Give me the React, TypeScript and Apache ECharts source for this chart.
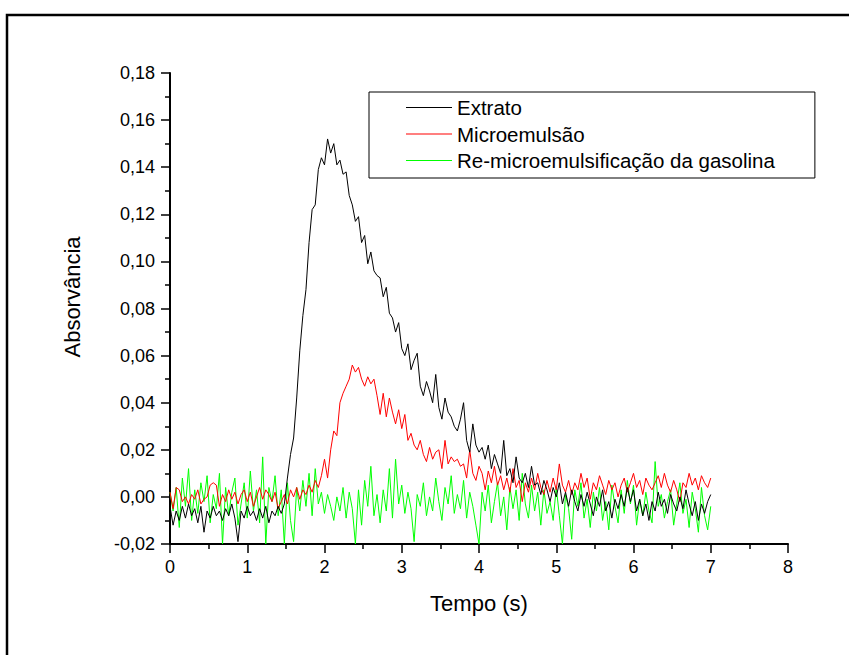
import React, { useEffect, useRef } from "react";
import * as echarts from "echarts";

// Sampling interval of the recordings (s)
const TIME_STEP = 0.04;

const SERIES_NAMES = ["Extrato", "Microemulsão", "Re-microemulsificação da gasolina"];
const SERIES_COLORS = ["#000000", "#ff0000", "#00ff00"];

const X_TICKS = [0, 1, 2, 3, 4, 5, 6, 7, 8];
const Y_TICKS = [-0.02, 0, 0.02, 0.04, 0.06, 0.08, 0.1, 0.12, 0.14, 0.16, 0.18];

// Extrato (black)
const extrato = [
  -0.004, -0.012, -0.006, -0.010, -0.004, -0.009, -0.003, -0.008, -0.005, -0.011,
  -0.004, -0.015, -0.006, -0.009, -0.004, -0.008, -0.006, -0.010, -0.005, -0.008,
  -0.003, -0.009, -0.019, -0.006, -0.009, -0.004, -0.008, -0.006, -0.010, -0.005,
  -0.009, -0.004, -0.011, -0.006, -0.008, -0.004, -0.007, -0.003, 0.008, 0.018,
  0.025, 0.042, 0.062, 0.077, 0.088, 0.108, 0.122, 0.124, 0.139, 0.144,
  0.141, 0.152, 0.146, 0.150, 0.141, 0.143, 0.137, 0.138, 0.128, 0.124,
  0.117, 0.119, 0.108, 0.111, 0.099, 0.104, 0.096, 0.094, 0.093, 0.085,
  0.089, 0.078, 0.076, 0.070, 0.074, 0.063, 0.060, 0.065, 0.054, 0.058,
  0.061, 0.047, 0.043, 0.049, 0.045, 0.040, 0.052, 0.038, 0.033, 0.042,
  0.036, 0.034, 0.030, 0.028, 0.033, 0.040, 0.024, 0.019, 0.031, 0.022,
  0.019, 0.021, 0.016, 0.022, 0.012, 0.018, 0.014, 0.010, 0.024, 0.009,
  0.012, 0.006, 0.017, 0.008, 0.006, 0.010, 0.004, 0.013, 0.005, 0.006,
  0.001, 0.007, 0.003, -0.002, 0.004, 0.000, 0.006, -0.003, 0.002, -0.004,
  0.003, -0.002, -0.006, 0.001, -0.004, 0.002, -0.003, -0.008, 0.000, -0.004,
  0.003, -0.006, -0.002, -0.009, -0.001, -0.005, 0.001, -0.004, 0.004, -0.002,
  0.003, -0.006, -0.001, -0.008, -0.003, -0.010, -0.002, -0.006, 0.002, -0.004,
  -0.001, -0.007, 0.001, -0.003, -0.006, 0.000, -0.005, 0.003, -0.003, -0.008,
  -0.002, -0.010, -0.003, -0.007, -0.002, 0.001,
];

// Microemulsão (red)
const microemulsao = [
  0.002, -0.005, 0.004, 0.003, -0.002, 0.000, -0.003, 0.001, -0.001, 0.003,
  -0.003, -0.001, 0.000, 0.005, 0.006, 0.005, -0.004, 0.001, -0.002, 0.003,
  -0.001, 0.002, -0.003, 0.001, 0.003, -0.002, 0.002, -0.004, 0.000, 0.004,
  -0.001, 0.003, 0.001, -0.002, 0.002, -0.005, -0.002, 0.001, -0.003, 0.003,
  0.000, 0.004, -0.001, 0.003, 0.001, 0.005, 0.002, 0.007, 0.004, 0.009,
  0.016, 0.008, 0.020, 0.028, 0.026, 0.040, 0.044, 0.047, 0.050, 0.056,
  0.053, 0.055, 0.050, 0.047, 0.051, 0.048, 0.050, 0.043, 0.035, 0.044,
  0.034, 0.042, 0.036, 0.031, 0.037, 0.029, 0.035, 0.024, 0.027, 0.022,
  0.020, 0.024, 0.018, 0.015, 0.021, 0.016, 0.019, 0.020, 0.012, 0.024,
  0.014, 0.017, 0.015, 0.016, 0.013, 0.014, 0.008, 0.020, 0.010, 0.007,
  0.013, 0.010, 0.003, 0.011, 0.006, 0.013, 0.005, 0.009, 0.003, 0.008,
  0.002, 0.012, 0.004, 0.007, -0.002, 0.006, 0.002, 0.008, 0.003, 0.010,
  0.004, 0.001, 0.007, 0.002, 0.008, 0.003, 0.014, 0.005, 0.002, 0.007,
  0.001, 0.006, 0.003, 0.010, 0.004, 0.008, -0.001, 0.006, 0.003, 0.009,
  0.005, 0.001, 0.007, 0.003, 0.006, 0.000, 0.005, 0.008, 0.002, 0.006,
  0.010, 0.004, 0.007, 0.001, 0.008, 0.005, 0.003, 0.006, 0.009, 0.004,
  0.010, 0.005, 0.002, 0.007, 0.003, -0.002, 0.006, 0.004, 0.010, 0.005,
  0.008, 0.003, 0.009, 0.006, 0.004, 0.008,
];

// Re-microemulsificação da gasolina (green)
const remicro = [
  0.002, -0.006, 0.004, -0.013, 0.008, -0.004, 0.012, -0.010, 0.003, -0.007,
  0.006, -0.002, 0.009, -0.011, 0.001, -0.005, 0.010, -0.020, 0.004, -0.008,
  0.002, 0.008, -0.012, -0.003, 0.006, -0.009, 0.011, -0.006, 0.003, -0.011,
  0.017, -0.020, 0.004, -0.002, 0.009, -0.008, 0.003, -0.020, 0.006, -0.010,
  -0.019, 0.004, -0.006, 0.007, -0.004, 0.010, -0.008, 0.012, -0.003, 0.002,
  -0.007, 0.001, -0.004, -0.010, 0.000, -0.006, 0.004, -0.009, 0.002, -0.005,
  -0.020, 0.003, -0.012, 0.007, -0.004, 0.013, -0.008, 0.001, -0.011, 0.003,
  -0.006, 0.012, -0.009, 0.016, -0.003, 0.005, -0.007, 0.002, -0.005, -0.019,
  0.001, -0.004, 0.006, -0.008, 0.000, -0.006, 0.008, -0.002, -0.010, 0.004,
  -0.003, 0.009, -0.007, 0.001, -0.005, 0.007, -0.009, 0.002, -0.004, -0.012,
  -0.020, 0.002, -0.006, 0.005, -0.011, -0.002, 0.006, -0.008, 0.000, -0.014,
  0.004, -0.005, 0.003, -0.010, 0.010, -0.003, -0.009, 0.005, -0.006, 0.002,
  -0.012, 0.003, -0.007, -0.002, -0.010, 0.004, -0.008, -0.020, 0.001, -0.005,
  -0.018, 0.003, -0.004, 0.006, -0.009, -0.001, -0.013, 0.002, -0.006, 0.004,
  -0.010, -0.002, -0.014, 0.005, -0.004, -0.011, 0.003, -0.007, 0.007, -0.003,
  0.005, -0.012, -0.001, -0.008, 0.002, -0.006, -0.011, 0.015, -0.004, 0.001,
  -0.009, -0.002, 0.003, -0.012, -0.003, 0.006, -0.007, -0.001, -0.013, 0.002,
  -0.005, -0.015, 0.004, -0.008, -0.014, -0.004,
];

const SERIES_VALUES = [extrato, microemulsao, remicro];

const FONT = "'Liberation Sans', Arial, sans-serif";

export default function App() {
  const ref = useRef<HTMLDivElement>(null);

  useEffect(() => {
    if (!ref.current) return;
    const chart = echarts.init(ref.current, undefined, { renderer: "svg" });

    const series = SERIES_NAMES.map((name, k) => ({
      name,
      type: "line",
      data: SERIES_VALUES[k].map((v, i) => [+(i * TIME_STEP).toFixed(3), v]),
      symbol: "none",
      showSymbol: false,
      lineStyle: { color: SERIES_COLORS[k], width: 1 },
      itemStyle: { color: SERIES_COLORS[k] },
      z: 3 - k,
    }));

    const option = {
      animation: false,
      backgroundColor: "#ffffff",
      grid: { left: 170, right: 61, top: 73, bottom: 111, containLabel: false },
      xAxis: {
        type: "value",
        min: X_TICKS[0],
        max: X_TICKS[X_TICKS.length - 1],
        interval: 1,
        axisLine: { show: true, onZero: false, lineStyle: { color: "#000", width: 2 } },
        axisTick: { show: true, inside: false, length: 9, lineStyle: { color: "#000", width: 1.5 } },
        minorTick: { show: true, splitNumber: 2, length: 5, lineStyle: { color: "#000", width: 1.5 } },
        splitLine: { show: false },
        axisLabel: {
          margin: 14,
          fontSize: 18,
          fontFamily: FONT,
          color: "#000",
          formatter: (v: number) => String(v),
        },
      },
      yAxis: {
        type: "value",
        min: Y_TICKS[0],
        max: Y_TICKS[Y_TICKS.length - 1],
        interval: 0.02,
        axisLine: { show: true, onZero: false, lineStyle: { color: "#000", width: 2 } },
        axisTick: { show: true, inside: false, length: 9, lineStyle: { color: "#000", width: 1.5 } },
        minorTick: { show: true, splitNumber: 2, length: 5, lineStyle: { color: "#000", width: 1.5 } },
        splitLine: { show: false },
        axisLabel: {
          margin: 15,
          fontSize: 18,
          fontFamily: FONT,
          color: "#000",
          formatter: (v: number) => v.toFixed(2).replace(".", ","),
        },
      },
      legend: {
        orient: "vertical",
        left: 369,
        top: 92,
        padding: [5, 40, 7, 37],
        icon: "rect",
        itemWidth: 46,
        itemHeight: 1,
        itemGap: 5.5,
        borderColor: "#000",
        borderWidth: 1,
        backgroundColor: "#ffffff",
        data: SERIES_NAMES,
        textStyle: { fontSize: 20.5, fontFamily: FONT, color: "#000", lineHeight: 20 },
      },
      graphic: [
        {
          type: "rect",
          shape: { x: 7, y: 15, width: 1200, height: 1200 },
          style: { fill: "none", stroke: "#000", lineWidth: 2.5 },
          silent: true,
        },
        {
          type: "text",
          x: 72,
          y: 297,
          rotation: Math.PI / 2,
          style: {
            text: "Absorvância",
            fontSize: 22,
            fontFamily: FONT,
            fill: "#000",
            textAlign: "center",
            textVerticalAlign: "middle",
          },
        },
        {
          type: "text",
          x: 479,
          y: 603,
          style: {
            text: "Tempo (s)",
            fontSize: 22,
            fontFamily: FONT,
            fill: "#000",
            textAlign: "center",
            textVerticalAlign: "middle",
          },
        },
      ],
      series,
    };

    chart.setOption(option as any);
    return () => chart.dispose();
  }, []);

  return (
    <div
      ref={ref}
      style={{ position: "fixed", left: 0, top: 0, width: 849, height: 655, background: "#fff" }}
    />
  );
}
